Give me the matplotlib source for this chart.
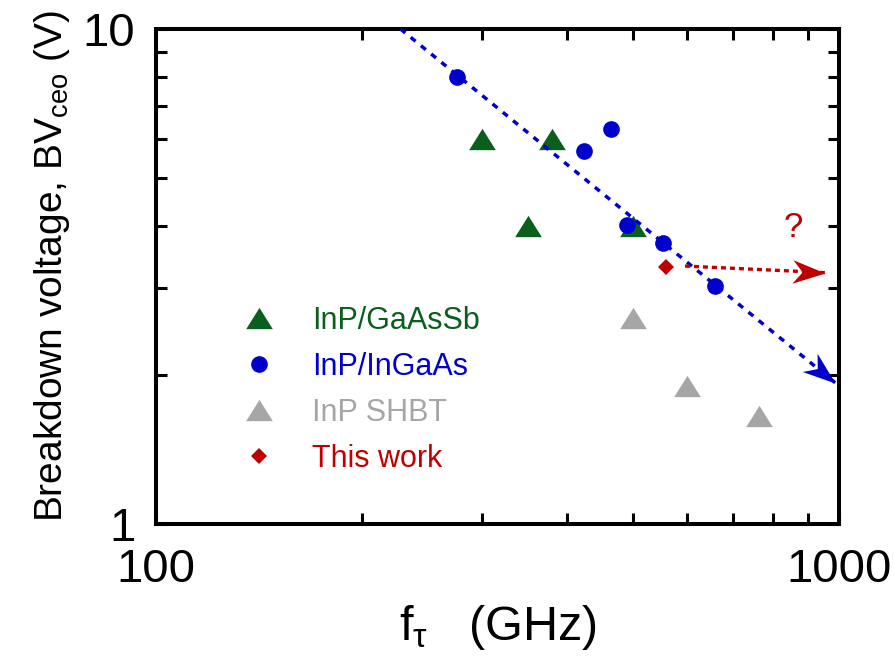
import numpy as np
import matplotlib.pyplot as plt
from matplotlib.markers import MarkerStyle
from matplotlib.path import Path
from matplotlib.transforms import Affine2D
from matplotlib.ticker import LogLocator, NullFormatter

plt.rcParams['font.family'] = ['Liberation Sans', 'DejaVu Sans']
plt.rcParams['mathtext.fontset'] = 'custom'
plt.rcParams['mathtext.rm'] = 'Liberation Sans'
plt.rcParams['mathtext.default'] = 'regular'

# values (fT in GHz, BVceo in V)
gaassb_ft = [300, 380, 350, 500]
gaassb_bv = [6.0, 6.0, 4.0, 4.0]
ingaas_ft = [276, 423, 464, 489, 553, 658]
ingaas_bv = [8.0, 5.67, 6.27, 4.02, 3.70, 3.02]
shbt_ft = [500, 600, 763]
shbt_bv = [2.61, 1.90, 1.65]
work_ft = [559]
work_bv = [3.30]
trend_ft = [228, 987]
trend_bv = [10.0, 1.93]
goal_ft = [595, 954]
goal_bv = [3.32, 3.22]

green = '#0a5f1c'
blue = '#0000cc'
grey = '#a6a6a6'
red = '#c00000'

fig = plt.figure(figsize=(8.94, 6.67), dpi=100)
ax = fig.add_axes([156/894, 143/667, 683/894, 495/667])
ax.set_xscale('log')
ax.set_yscale('log')
ax.set_xlim(100, 1000)
ax.set_ylim(1, 10)

tri = MarkerStyle([(-1, -0.8), (1, -0.8), (0, 0.8)])

ax.plot(gaassb_ft, gaassb_bv, ls='none', marker=tri, ms=19.2, mew=0,
        color=green, label='InP/GaAsSb', zorder=2.5)
ax.plot(trend_ft, trend_bv, color=blue, lw=2.5, ls=(0, (1.8, 2.0)),
        zorder=3, clip_on=False)
ax.plot(goal_ft, goal_bv, color=red, lw=2.4, ls=(0, (1.5, 1.2)), zorder=3)
ax.plot(ingaas_ft, ingaas_bv, ls='none', marker='o', ms=12, mew=0,
        color=blue, label='InP/InGaAs', zorder=3.5)
ax.plot(shbt_ft, shbt_bv, ls='none', marker=tri, ms=19.2, mew=0,
        color=grey, label='InP SHBT', zorder=2.5)
ax.plot(work_ft, work_bv, ls='none', marker='D', ms=8.5, mew=0,
        color=red, label='This work', zorder=3.5)


def arrow_head(xs, ys, color, size):
    p0 = ax.transData.transform((xs[0], ys[0]))
    p1 = ax.transData.transform((xs[1], ys[1]))
    ang = np.degrees(np.arctan2(p1[1] - p0[1], p1[0] - p0[0]))
    head = Path([(0, 0), (-2, 0.72), (-1.4, 0), (-2, -0.72), (0, 0)],
                [Path.MOVETO, Path.LINETO, Path.LINETO, Path.LINETO, Path.CLOSEPOLY])
    m = MarkerStyle(head, transform=Affine2D().rotate_deg(ang))
    ax.plot([xs[1]], [ys[1]], ls='none', marker=m, ms=size, mew=0,
            color=color, zorder=4, clip_on=False)


arrow_head(trend_ft, trend_bv, blue, 47)
arrow_head(goal_ft, goal_bv, red, 47)

ax.text(856, 3.98, '?', color=red, fontsize=25, ha='center', va='center')

ax.set_xticks([100, 1000], labels=['100', '1000'])
ax.set_yticks([1, 10], labels=['1', '10'])
ax.xaxis.set_minor_locator(LogLocator(subs=np.arange(2, 10)))
ax.yaxis.set_minor_locator(LogLocator(subs=np.arange(2, 10)))
ax.xaxis.set_minor_formatter(NullFormatter())
ax.yaxis.set_minor_formatter(NullFormatter())
ax.tick_params(which='both', direction='in', top=True, right=True,
               width=2.2, labelsize=34, length=8)
ax.tick_params(axis='x', which='both', pad=17)
ax.tick_params(axis='y', which='both', pad=15)
for s in ax.spines.values():
    s.set_linewidth(2.9)

ax.set_xlabel('f$_{τ}$   (GHz)', fontsize=35, labelpad=8)
ax.set_ylabel('Breakdown voltage, BV$_{ceo}$ (V)', fontsize=28)
ax.yaxis.set_label_coords(-0.123, 0.52)

ax.legend(loc='center left', bbox_to_anchor=(0.128, 0.271), frameon=False,
          fontsize=22, labelcolor='markerfacecolor', handlelength=1.0,
          handletextpad=1.26, labelspacing=0.52, borderpad=0, borderaxespad=0)

fig.savefig('out.png', dpi=100)
